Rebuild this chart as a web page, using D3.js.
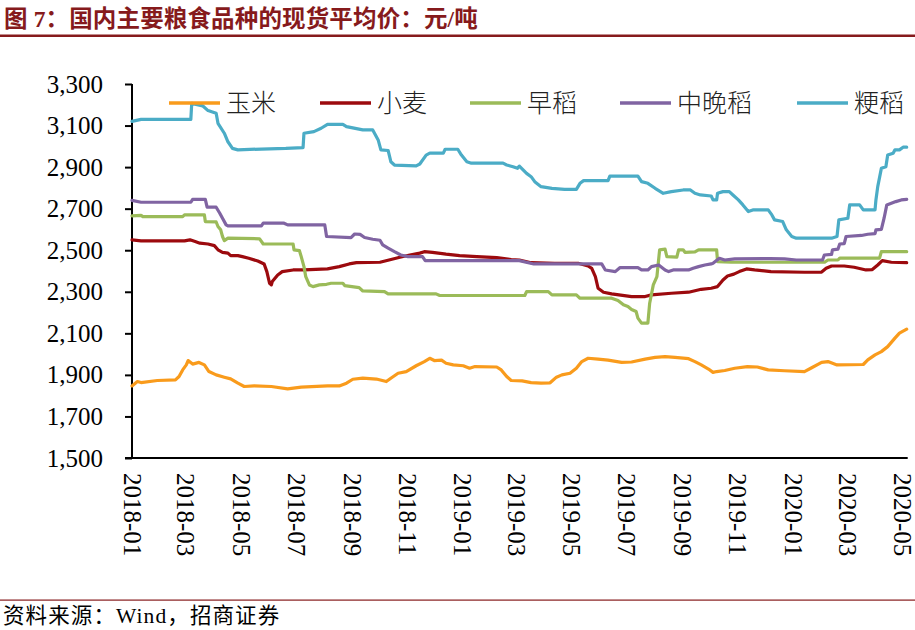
<!DOCTYPE html>
<html><head><meta charset="utf-8">
<script src="https://cdn.jsdelivr.net/npm/d3@7/dist/d3.min.js"></script>
<style>
html,body{margin:0;padding:0;background:#fff;}
svg{display:block;}
</style></head>
<body><svg id="c" width="915" height="630"></svg>
<script>
// ---------------- data ----------------
const seriesNames = ["玉米", "小麦", "早稻", "中晚稻", "粳稻"];
const yTicks = [1500, 1700, 1900, 2100, 2300, 2500, 2700, 2900, 3100, 3300];
const xTickLabels = ["2018-01","2018-03","2018-05","2018-07","2018-09","2018-11","2019-01","2019-03","2019-05","2019-07","2019-09","2019-11","2020-01","2020-03","2020-05"];

const corn = [["2018-01-01",1847],["2018-01-07",1868],["2018-01-11",1863],["2018-01-29",1873],["2018-02-18",1876],["2018-02-22",1892],["2018-02-26",1924],["2018-03-02",1948],["2018-03-04",1969],["2018-03-09",1952],["2018-03-16",1960],["2018-03-22",1948],["2018-03-27",1916],["2018-04-04",1900],["2018-04-13",1889],["2018-04-20",1881],["2018-04-28",1860],["2018-05-05",1844],["2018-05-16",1847],["2018-06-04",1844],["2018-06-22",1833],["2018-07-07",1841],["2018-08-05",1847],["2018-08-18",1847],["2018-08-26",1860],["2018-09-02",1879],["2018-09-13",1884],["2018-09-28",1880],["2018-10-09",1868],["2018-10-14",1884],["2018-10-22",1908],["2018-10-31",1916],["2018-11-11",1944],["2018-11-20",1964],["2018-11-26",1980],["2018-12-01",1969],["2018-12-09",1971],["2018-12-14",1956],["2018-12-22",1948],["2019-01-02",1944],["2019-01-09",1932],["2019-01-15",1940],["2019-02-08",1938],["2019-02-13",1924],["2019-02-19",1892],["2019-02-24",1873],["2019-03-08",1871],["2019-03-18",1863],["2019-03-29",1860],["2019-04-08",1862],["2019-04-15",1889],["2019-04-21",1900],["2019-04-30",1908],["2019-05-07",1932],["2019-05-13",1964],["2019-05-20",1980],["2019-05-31",1976],["2019-06-11",1971],["2019-06-26",1960],["2019-07-07",1962],["2019-07-22",1976],["2019-08-02",1984],["2019-08-13",1988],["2019-08-24",1984],["2019-09-08",1978],["2019-09-15",1964],["2019-09-22",1948],["2019-09-30",1928],["2019-10-05",1912],["2019-10-09",1916],["2019-10-18",1921],["2019-10-29",1932],["2019-11-12",1940],["2019-11-23",1938],["2019-12-05",1924],["2019-12-23",1920],["2020-01-14",1916],["2020-01-21",1932],["2020-02-02",1960],["2020-02-09",1964],["2020-02-19",1948],["2020-03-19",1950],["2020-03-24",1972],["2020-04-01",1996],["2020-04-08",2012],["2020-04-15",2036],["2020-04-23",2077],["2020-04-28",2101],["2020-05-06",2120]];

const wheat = [["2018-01-01",2550],["2018-01-11",2545],["2018-02-28",2545],["2018-03-06",2550],["2018-03-11",2543],["2018-03-17",2534],["2018-03-26",2530],["2018-04-02",2522],["2018-04-06",2502],["2018-04-11",2490],["2018-04-17",2486],["2018-04-20",2474],["2018-04-28",2474],["2018-05-03",2469],["2018-05-10",2461],["2018-05-20",2448],["2018-05-27",2434],["2018-05-30",2397],["2018-06-02",2341],["2018-06-04",2333],["2018-06-05",2349],["2018-06-11",2381],["2018-06-16",2397],["2018-06-28",2405],["2018-07-10",2405],["2018-08-05",2410],["2018-08-18",2421],["2018-08-29",2434],["2018-09-06",2440],["2018-10-02",2442],["2018-10-12",2453],["2018-10-24",2466],["2018-11-04",2477],["2018-11-15",2486],["2018-11-20",2493],["2018-11-29",2490],["2018-12-14",2481],["2018-12-29",2474],["2019-01-17",2469],["2019-02-08",2464],["2019-02-24",2455],["2019-03-05",2453],["2019-03-18",2440],["2019-04-13",2437],["2019-05-09",2437],["2019-05-20",2424],["2019-05-24",2413],["2019-05-28",2373],["2019-05-31",2317],["2019-06-06",2298],["2019-06-15",2290],["2019-07-07",2277],["2019-07-22",2277],["2019-07-29",2285],["2019-08-20",2293],["2019-09-08",2298],["2019-09-22",2312],["2019-10-03",2317],["2019-10-10",2325],["2019-10-16",2357],["2019-10-21",2376],["2019-10-28",2385],["2019-11-03",2397],["2019-11-11",2410],["2019-11-20",2405],["2019-12-08",2397],["2020-01-14",2394],["2020-02-02",2395],["2020-02-07",2413],["2020-02-13",2424],["2020-02-27",2424],["2020-03-09",2418],["2020-03-22",2405],["2020-03-29",2407],["2020-04-04",2429],["2020-04-09",2450],["2020-04-19",2442],["2020-05-06",2440]];

const earlyRice = [["2018-01-01",2665],["2018-01-11",2668],["2018-01-13",2662],["2018-02-26",2662],["2018-02-28",2670],["2018-03-22",2670],["2018-03-23",2638],["2018-04-04",2636],["2018-04-06",2614],["2018-04-09",2598],["2018-04-11",2566],["2018-04-13",2546],["2018-04-17",2558],["2018-05-22",2555],["2018-05-26",2530],["2018-06-28",2530],["2018-06-29",2502],["2018-07-05",2498],["2018-07-07",2469],["2018-07-10",2421],["2018-07-12",2373],["2018-07-16",2333],["2018-07-20",2325],["2018-07-27",2333],["2018-08-04",2336],["2018-08-09",2341],["2018-08-22",2341],["2018-08-24",2330],["2018-09-09",2320],["2018-09-13",2304],["2018-10-07",2301],["2018-10-11",2290],["2018-12-03",2290],["2018-12-07",2282],["2019-03-11",2282],["2019-03-13",2301],["2019-04-06",2301],["2019-04-10",2285],["2019-05-07",2285],["2019-05-11",2269],["2019-06-15",2269],["2019-06-22",2258],["2019-06-28",2237],["2019-07-03",2229],["2019-07-07",2215],["2019-07-12",2205],["2019-07-14",2173],["2019-07-18",2149],["2019-07-25",2149],["2019-07-27",2245],["2019-07-31",2333],["2019-08-04",2373],["2019-08-07",2502],["2019-08-13",2505],["2019-08-15",2469],["2019-08-26",2467],["2019-08-28",2502],["2019-09-02",2502],["2019-09-04",2490],["2019-09-15",2492],["2019-09-19",2502],["2019-10-09",2502],["2019-10-10",2445],["2019-10-25",2442],["2020-02-05",2442],["2020-02-09",2453],["2020-02-20",2453],["2020-02-22",2462],["2020-04-06",2462],["2020-04-08",2493],["2020-05-06",2493]];

const midLateRice = [["2018-01-01",2740],["2018-01-11",2731],["2018-03-07",2731],["2018-03-09",2745],["2018-03-23",2745],["2018-03-25",2707],["2018-04-04",2707],["2018-04-08",2678],["2018-04-11",2654],["2018-04-15",2622],["2018-04-17",2617],["2018-05-24",2617],["2018-05-26",2630],["2018-06-18",2630],["2018-06-22",2622],["2018-08-02",2622],["2018-08-04",2566],["2018-08-31",2561],["2018-09-04",2578],["2018-09-10",2576],["2018-09-15",2561],["2018-09-24",2553],["2018-10-02",2548],["2018-10-05",2526],["2018-10-11",2510],["2018-10-18",2493],["2018-10-25",2477],["2018-11-02",2469],["2018-11-18",2469],["2018-11-21",2450],["2019-03-05",2450],["2019-03-21",2434],["2019-06-04",2434],["2019-06-08",2405],["2019-06-19",2397],["2019-06-24",2416],["2019-07-14",2416],["2019-07-18",2405],["2019-07-25",2405],["2019-07-29",2421],["2019-08-06",2429],["2019-08-13",2405],["2019-08-17",2397],["2019-08-22",2405],["2019-09-08",2405],["2019-09-13",2413],["2019-09-19",2421],["2019-09-26",2429],["2019-10-03",2434],["2019-10-05",2437],["2019-10-12",2461],["2019-10-18",2453],["2019-10-29",2458],["2019-12-07",2460],["2019-12-23",2458],["2020-01-05",2453],["2020-02-03",2453],["2020-02-05",2477],["2020-02-13",2480],["2020-02-14",2502],["2020-02-20",2505],["2020-02-22",2530],["2020-02-27",2532],["2020-02-29",2566],["2020-03-17",2571],["2020-03-24",2577],["2020-04-01",2580],["2020-04-02",2598],["2020-04-08",2600],["2020-04-11",2654],["2020-04-14",2718],["2020-04-19",2726],["2020-04-24",2734],["2020-04-30",2742],["2020-05-06",2745]];

const japonicaRice = [["2018-01-01",3120],["2018-01-11",3130],["2018-03-07",3130],["2018-03-08",3207],["2018-03-20",3195],["2018-03-26",3172],["2018-04-04",3159],["2018-04-06",3111],["2018-04-13",3063],["2018-04-17",3022],["2018-04-22",2990],["2018-04-28",2983],["2018-05-24",2987],["2018-06-20",2990],["2018-07-09",2994],["2018-07-10",3063],["2018-07-21",3071],["2018-07-29",3087],["2018-08-05",3106],["2018-08-22",3106],["2018-08-26",3095],["2018-09-13",3079],["2018-09-24",3079],["2018-09-30",3031],["2018-10-03",2983],["2018-10-11",2980],["2018-10-14",2926],["2018-10-18",2910],["2018-11-11",2906],["2018-11-15",2915],["2018-11-22",2958],["2018-11-26",2967],["2018-12-11",2967],["2018-12-13",2986],["2018-12-27",2986],["2018-12-31",2958],["2019-01-06",2926],["2019-01-11",2919],["2019-02-15",2919],["2019-02-19",2910],["2019-02-26",2902],["2019-03-03",2894],["2019-03-05",2905],["2019-03-13",2870],["2019-03-18",2854],["2019-03-22",2830],["2019-03-29",2806],["2019-04-10",2798],["2019-04-24",2793],["2019-05-07",2793],["2019-05-11",2822],["2019-05-15",2835],["2019-06-11",2835],["2019-06-13",2857],["2019-07-14",2857],["2019-07-18",2830],["2019-07-25",2822],["2019-08-02",2798],["2019-08-11",2774],["2019-08-20",2782],["2019-09-02",2790],["2019-09-10",2790],["2019-09-15",2774],["2019-09-21",2766],["2019-10-03",2761],["2019-10-05",2742],["2019-10-09",2742],["2019-10-10",2774],["2019-10-16",2782],["2019-10-23",2782],["2019-10-27",2766],["2019-11-02",2742],["2019-11-07",2718],["2019-11-13",2686],["2019-11-18",2694],["2019-12-05",2694],["2019-12-09",2670],["2019-12-12",2646],["2019-12-21",2638],["2019-12-25",2598],["2019-12-31",2566],["2020-01-05",2558],["2020-02-13",2558],["2020-02-19",2566],["2020-02-21",2646],["2020-03-02",2654],["2020-03-04",2718],["2020-03-15",2718],["2020-03-19",2694],["2020-04-01",2694],["2020-04-02",2742],["2020-04-04",2806],["2020-04-08",2894],["2020-04-13",2902],["2020-04-15",2958],["2020-04-21",2967],["2020-04-23",2983],["2020-04-28",2983],["2020-05-02",2996],["2020-05-06",2996]];

// ---------------- styles ----------------
const colors = ["#F99B1C", "#9C0A0E", "#9BBB59", "#8064A2", "#4BACC6"];
const serif = "'Liberation Serif','Times New Roman','Noto Sans CJK SC',serif";
const cjk = "'Liberation Serif','Noto Sans CJK SC',sans-serif";
const titleRed = "#861A1C";

const parse = d3.timeParse("%Y-%m-%d");
const allSeries = [corn, wheat, earlyRice, midLateRice, japonicaRice].map(s => s.map(([d, v]) => ({date: parse(d), v})));

const svg = d3.select("#c");
const L = 132, R = 906.7, T = 84, B = 458;

const x = d3.scaleTime()
  .domain([parse("2018-01-01"), parse("2020-05-06")])
  .range([L, R]);
const y = d3.scaleLinear().domain([1500, 3300]).range([B, T]);

// title
svg.append("text").attr("x", 4).attr("y", 27)
  .attr("font-family", cjk).attr("font-weight", "bold").attr("font-size", 23.5)
  .attr("fill", titleRed).attr("letter-spacing", 0.15)
  .text("图 7：国内主要粮食品种的现货平均价：元/吨");
svg.append("rect").attr("x", 0).attr("y", 34.5).attr("width", 915).attr("height", 2.5).attr("fill", titleRed);

// y axis
const yAxis = d3.axisLeft(y).tickValues(yTicks).tickFormat(d3.format(",")).tickSize(7).tickPadding(22);
const gy = svg.append("g").attr("transform", `translate(${L},0)`).call(yAxis);
gy.select(".domain").remove();
gy.selectAll(".tick line").attr("stroke", "#000").attr("stroke-width", 2);
gy.selectAll(".tick text").attr("font-family", serif).attr("font-size", 25).attr("fill", "#000");

// x axis
const xAxis = d3.axisBottom(x).tickValues(xTickLabels.map(s => parse(s + "-01")))
  .tickFormat(d3.timeFormat("%Y-%m")).tickSize(0);
const gx = svg.append("g").attr("transform", `translate(0,${B})`).call(xAxis);
gx.select(".domain").remove();
gx.selectAll(".tick text")
  .attr("font-family", serif).attr("font-size", 25).attr("fill", "#000")
  .attr("transform", "rotate(90)").attr("text-anchor", "start")
  .attr("x", 15).attr("y", 0).attr("dy", "0.34em");

// axis lines
svg.append("line").attr("x1", L).attr("x2", L).attr("y1", T).attr("y2", B + 1)
  .attr("stroke", "#000").attr("stroke-width", 2);
svg.append("line").attr("x1", L - 7).attr("x2", R + 1).attr("y1", B).attr("y2", B)
  .attr("stroke", "#000").attr("stroke-width", 2);

// lines
const line = d3.line().x(d => x(d.date)).y(d => y(d.v));
svg.append("g").selectAll("path").data(allSeries).join("path")
  .attr("d", line).attr("fill", "none")
  .attr("stroke", (d, i) => colors[i]).attr("stroke-width", 3.2)
  .attr("stroke-linejoin", "round").attr("stroke-linecap", "round");

// legend
const legendX = [169, 320, 470, 620, 797];
const lg = svg.append("g");
seriesNames.forEach((name, i) => {
  lg.append("line").attr("x1", legendX[i]).attr("x2", legendX[i] + 51)
    .attr("y1", 103).attr("y2", 103).attr("stroke", colors[i]).attr("stroke-width", 3.5);
  lg.append("text").attr("x", legendX[i] + 57).attr("y", 112)
    .attr("font-family", cjk).attr("font-size", 25).attr("font-weight", 300).attr("fill", "#222")
    .text(name);
});

// footer
svg.append("rect").attr("x", 0).attr("y", 599.5).attr("width", 915).attr("height", 1.2).attr("fill", titleRed);
svg.append("text").attr("x", 3).attr("y", 623)
  .attr("font-family", cjk).attr("font-size", 21.5).attr("fill", "#000").attr("letter-spacing", 1.1)
  .text("资料来源：Wind，招商证券");
</script>
</body></html>
